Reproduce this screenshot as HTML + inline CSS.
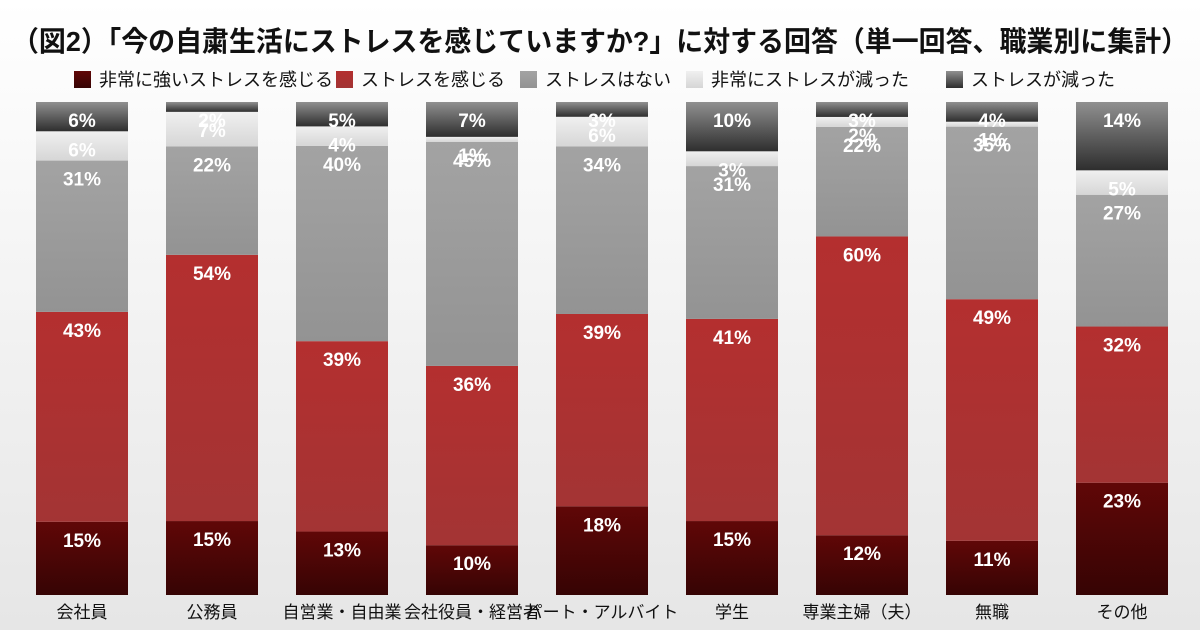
<!DOCTYPE html>
<html><head><meta charset="utf-8">
<style>
html,body{margin:0;padding:0;width:1200px;height:630px;overflow:hidden;background:#f2f2f2}
svg{display:block}
text{font-family:"Liberation Sans","Noto Sans CJK JP",sans-serif}
</style></head>
<body>
<svg id="chart" width="1200" height="630" viewBox="0 0 1200 630">
<defs>
<linearGradient id="bg" x1="0" y1="0" x2="0" y2="1"><stop offset="0" stop-color="#ffffff"/><stop offset="1" stop-color="#e6e6e6"/></linearGradient>
<linearGradient id="g0" x1="0" y1="0" x2="0" y2="1"><stop offset="0" stop-color="#600707"/><stop offset="1" stop-color="#360404"/></linearGradient>
<linearGradient id="g1" x1="0" y1="0" x2="0" y2="1"><stop offset="0" stop-color="#b42f2f"/><stop offset="1" stop-color="#a33434"/></linearGradient>
<linearGradient id="g2" x1="0" y1="0" x2="0" y2="1"><stop offset="0" stop-color="#a3a3a3"/><stop offset="1" stop-color="#939393"/></linearGradient>
<linearGradient id="g3" x1="0" y1="0" x2="0" y2="1"><stop offset="0" stop-color="#f0f0f0"/><stop offset="1" stop-color="#d6d6d6"/></linearGradient>
<linearGradient id="g4" x1="0" y1="0" x2="0" y2="1"><stop offset="0" stop-color="#909090"/><stop offset="1" stop-color="#2e2e2e"/></linearGradient>
</defs>
<rect width="1200" height="630" fill="url(#bg)"/>
<text x="12" y="51" font-size="28" font-weight="bold" fill="#111" textLength="1176" lengthAdjust="spacingAndGlyphs">（図2）「今の自粛生活にストレスを感じていますか?」に対する回答（単一回答、職業別に集計）</text>
<g id="legend"></g>
<g id="bars"></g>
<g id="xlabels"></g>
</svg>
<script>
const categories = ["会社員","公務員","自営業・自由業","会社役員・経営者","パート・アルバイト","学生","専業主婦（夫）","無職","その他"];
const seriesNames = ["非常に強いストレスを感じる","ストレスを感じる","ストレスはない","非常にストレスが減った","ストレスが減った"];
const strongStress = [15,15,13,10,18,15,12,11,23];
const stress = [43,54,39,36,39,41,60,49,32];
const noStress = [31,22,40,45,34,31,22,35,27];
const muchLess = [6,7,4,1,6,3,2,1,5];
const less = [6,2,5,7,3,10,3,4,14];

const series = [strongStress, stress, noStress, muchLess, less];
const fills = ["url(#g0)","url(#g1)","url(#g2)","url(#g3)","url(#g4)"];
const NS = "http://www.w3.org/2000/svg";
const plotTop = 102, plotBottom = 595, barW = 92, x0 = 36, step = 130;
function xPos(i){ return x0 + i*step; }
function yScale(frac){ return plotBottom - frac*(plotBottom-plotTop); }

const bars = document.getElementById('bars');
const xl = document.getElementById('xlabels');
categories.forEach((c,i)=>{
  const total = series.reduce((s,a)=>s+a[i],0);
  let cum = 0;
  const labels = [];
  series.forEach((arr,k)=>{
    const v = arr[i];
    const yb = yScale(cum/total), yt = yScale((cum+v)/total);
    cum += v;
    const r = document.createElementNS(NS,'rect');
    
    
    r.setAttribute('x', xPos(i)); r.setAttribute('y', yt);
    r.setAttribute('width', barW); r.setAttribute('height', yb-yt);
    r.setAttribute('fill', fills[k]);
    bars.appendChild(r);
    labels.push([v, yt]);
  });
  labels.forEach(([v,yt])=>{
    const t = document.createElementNS(NS,'text');
    
    
    t.setAttribute('x', xPos(i)+barW/2); t.setAttribute('y', yt+25);
    t.setAttribute('text-anchor','middle'); t.setAttribute('font-size','19');
    t.setAttribute('font-weight','bold'); t.setAttribute('fill','#fff');
    t.textContent = v + '%';
    bars.appendChild(t);
  });
  const lt = document.createElementNS(NS,'text');
  
  
  lt.setAttribute('x', xPos(i)+barW/2); lt.setAttribute('y', 618);
  lt.setAttribute('text-anchor','middle'); lt.setAttribute('font-size','17'); lt.setAttribute('fill','#111');
  lt.textContent = c;
  xl.appendChild(lt);
});

const legend = document.getElementById('legend');
const legX = [74, 336, 520, 686, 946];
seriesNames.forEach((n,k)=>{
  const r = document.createElementNS(NS,'rect');
  
  
  r.setAttribute('x', legX[k]); r.setAttribute('y', 71);
  r.setAttribute('width', 17); r.setAttribute('height', 17);
  r.setAttribute('fill', fills[k]);
  legend.appendChild(r);
  const t = document.createElementNS(NS,'text');
  
  
  t.setAttribute('x', legX[k]+25); t.setAttribute('y', 86);
  t.setAttribute('font-size','18'); t.setAttribute('fill','#111');
  t.textContent = n;
  legend.appendChild(t);
});
</script>
</body></html>
